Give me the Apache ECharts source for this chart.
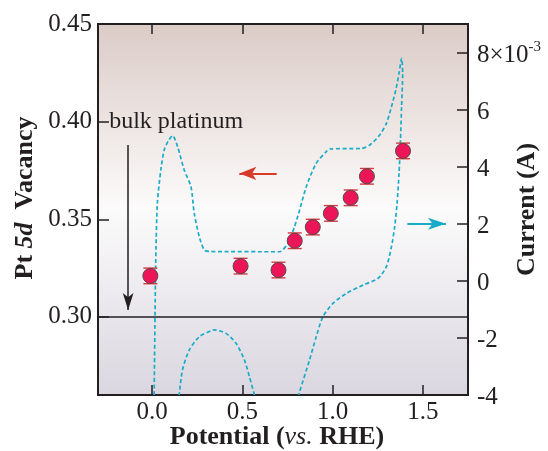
<!DOCTYPE html>
<html><head><meta charset="utf-8">
<script src="https://cdn.jsdelivr.net/npm/echarts@6/dist/echarts.min.js"></script>
<style>html,body{margin:0;padding:0;background:#fff}#c{width:548px;height:451px}</style>
</head><body><div id="c"></div>
<script>
// ---- data ----
const potential  = [-0.01, 0.49, 0.70, 0.79, 0.89, 0.99, 1.10, 1.19, 1.39];
const vacancy    = [0.321, 0.326, 0.324, 0.339, 0.346, 0.353, 0.361, 0.372, 0.385];
const vacancyErr = [0.004, 0.004, 0.004, 0.004, 0.004, 0.004, 0.004, 0.004, 0.004];

// cyclic voltammogram (A), main loop: anodic sweep then cathodic sweep
const cvMainPotential = [0.011, 0.017, 0.021, 0.029, 0.048, 0.067, 0.089, 0.113, 0.141, 0.178, 0.215, 0.233, 0.261, 0.289, 0.317, 0.706, 0.752, 0.789, 0.817, 0.854, 0.909, 0.965, 0.983, 1.159, 1.206, 1.261, 1.298, 1.326, 1.350, 1.368, 1.382,
                         1.388, 1.382, 1.376, 1.368, 1.357, 1.344, 1.326, 1.298, 1.252, 1.168, 1.076, 1.002, 0.946, 0.909, 0.872, 0.817, 0.811];
const cvMainCurrent   = [-4.0e-3, -0.67e-3, 1.08e-3, 2.73e-3, 3.88e-3, 4.59e-3, 4.90e-3, 5.09e-3, 4.70e-3, 3.88e-3, 3.30e-3, 2.38e-3, 1.55e-3, 1.08e-3, 1.03e-3, 1.02e-3, 1.32e-3, 1.90e-3, 2.48e-3, 3.30e-3, 4.12e-3, 4.53e-3, 4.62e-3, 4.64e-3, 4.76e-3, 5.11e-3, 5.52e-3, 6.10e-3, 6.69e-3, 7.27e-3, 7.80e-3,
                         7.28e-3, 6.10e-3, 4.94e-3, 3.77e-3, 2.72e-3, 1.90e-3, 1.20e-3, 0.50e-3, 0.09e-3, -0.15e-3, -0.44e-3, -0.79e-3, -1.26e-3, -1.96e-3, -2.77e-3, -3.88e-3, -4.0e-3];
// cathodic hydrogen region visible above the axis floor
const cvHumpPotential = [0.567, 0.539, 0.511, 0.465, 0.409, 0.344, 0.326, 0.261, 0.206, 0.168, 0.150];
const cvHumpCurrent   = [-4.0e-3, -3.36e-3, -2.77e-3, -2.19e-3, -1.84e-3, -1.72e-3, -1.75e-3, -1.96e-3, -2.42e-3, -3.12e-3, -4.0e-3];

const xTicks     = [0.0, 0.5, 1.0, 1.5];
const leftTicks  = [0.30, 0.35, 0.40, 0.45];
const rightTicks = [-0.004, -0.002, 0, 0.002, 0.004, 0.006, 0.008];
const bulkPlatinum = 0.30;

// ---- chart ----
const serif = '"Liberation Serif","DejaVu Serif",serif';
const ink = '#231f20';
const chart = echarts.init(document.getElementById('c'), null, {renderer: 'canvas'});

const zip = (a, b) => a.map((v, i) => [v, b[i]]);

const option = {
  animation: false,
  textStyle: {fontFamily: serif},
  grid: {
    left: 98, right: 80, top: 24, bottom: 56, show: true, borderWidth: 2, borderColor: ink,
    outerBoundsMode: 'none',
    backgroundColor: {type: 'linear', x: 0, y: 0, x2: 0, y2: 1, colorStops: [
      {offset: 0, color: '#dbcbc6'}, {offset: 0.5, color: '#fcfbfb'}, {offset: 1, color: '#d9d6df'}]}
  },
  xAxis: [{
    type: 'value', min: -0.3, max: 1.75, position: 'bottom',
    axisLine: {onZero: false, lineStyle: {color: ink, width: 2}},
    axisTick: {inside: true, length: 10, lineStyle: {color: ink, width: 1.5}, customValues: xTicks},
    axisLabel: {customValues: xTicks, formatter: v => v.toFixed(1), fontFamily: serif, fontSize: 25, color: ink, margin: 5},
    splitLine: {show: false},
    name: '{b|Potential (}{i|vs.}{b| RHE)}', nameLocation: 'middle', nameGap: 29, nameMoveOverlap: false,
    nameTextStyle: {padding: [0, 12, 0, 0], rich: {
      b: {fontFamily: serif, fontSize: 26, fontWeight: 'bold', color: ink},
      i: {fontFamily: serif, fontSize: 26, fontStyle: 'italic', color: ink}}}
  }, {
    type: 'value', min: -0.3, max: 1.75, position: 'top',
    axisLine: {onZero: false, lineStyle: {color: ink, width: 2}},
    axisTick: {inside: true, length: 10, lineStyle: {color: ink, width: 1.5}, customValues: xTicks},
    axisLabel: {show: false}, splitLine: {show: false}
  }],
  yAxis: [{
    type: 'value', min: 0.26, max: 0.45, position: 'left',
    axisLine: {onZero: false, lineStyle: {color: ink, width: 2}},
    axisTick: {inside: true, length: 11, lineStyle: {color: ink, width: 1.5}, customValues: leftTicks},
    axisLabel: {customValues: leftTicks, formatter: v => v.toFixed(2), fontFamily: serif, fontSize: 25, color: ink, margin: 6},
    splitLine: {show: false},
    name: '{b|Pt }{bi|5d}{b|  Vacancy}', nameLocation: 'middle', nameGap: 60, nameMoveOverlap: false,
    nameTextStyle: {padding: [0, 0, 0, 23], rich: {
      b: {fontFamily: serif, fontSize: 26, fontWeight: 'bold', color: ink},
      bi: {fontFamily: serif, fontSize: 26, fontWeight: 'bold', fontStyle: 'italic', color: ink}}}
  }, {
    type: 'value', min: -0.004, max: 0.009, position: 'right',
    axisLine: {onZero: false, lineStyle: {color: ink, width: 2}},
    axisTick: {inside: true, length: 11, lineStyle: {color: ink, width: 1.5}, customValues: rightTicks},
    axisLabel: {customValues: rightTicks, margin: 9,
      formatter: v => { const k = Math.round(v * 1000); return k === 8 ? '{m|8×10}{s|-3}' : '{m|' + k + '}'; },
      rich: {m: {fontFamily: serif, fontSize: 25, color: ink, lineHeight: 30, verticalAlign: 'bottom'},
             s: {fontFamily: serif, fontSize: 15, color: ink, lineHeight: 18, verticalAlign: 'top', padding: [2, 0, 0, 0]}}},
    splitLine: {show: false},
    name: 'Current (A)', nameLocation: 'middle', nameGap: 46, nameMoveOverlap: false, nameRotate: 90,
    nameTextStyle: {fontFamily: serif, fontSize: 26, fontWeight: 'bold', color: ink}
  }],
  series: [{
    type: 'line', xAxisIndex: 0, yAxisIndex: 1,
    data: zip(cvMainPotential, cvMainCurrent),
    showSymbol: false, symbol: 'none', smooth: 0.25, clip: true, silent: true,
    lineStyle: {color: '#19abc8', width: 1.7, type: [4, 2.6]},
    markLine: {
      silent: true, symbol: ['none', 'none'], label: {show: false}, animation: false,
      data: [[
        {coord: [1.414, 0.002], symbol: 'none', lineStyle: {color: '#19abc8', width: 2, type: 'solid'}},
        {coord: [1.628, 0.002], symbol: 'arrow', symbolSize: [9, 18], lineStyle: {color: '#19abc8', width: 2, type: 'solid'}}
      ]]
    },
    z: 2
  }, {
    type: 'line', xAxisIndex: 0, yAxisIndex: 1,
    data: zip(cvHumpPotential, cvHumpCurrent),
    showSymbol: false, symbol: 'none', smooth: 0.25, clip: true, silent: true,
    lineStyle: {color: '#19abc8', width: 1.7, type: [4, 2.6]},
    z: 2
  }, {
    type: 'custom', xAxisIndex: 0, yAxisIndex: 0, silent: true,
    data: potential.map((x, i) => [x, vacancy[i] - vacancyErr[i], vacancy[i] + vacancyErr[i]]),
    encode: {x: 0, y: [1, 2]},
    renderItem: (params, api) => {
      const lo = api.coord([api.value(0), api.value(1)]);
      const hi = api.coord([api.value(0), api.value(2)]);
      const w = 7, st = {stroke: '#d8383f', lineWidth: 1.4};
      return {type: 'group', children: [
        {type: 'line', shape: {x1: lo[0], y1: lo[1], x2: hi[0], y2: hi[1]}, style: st},
        {type: 'line', shape: {x1: lo[0] - w, y1: lo[1], x2: lo[0] + w, y2: lo[1]}, style: st},
        {type: 'line', shape: {x1: hi[0] - w, y1: hi[1], x2: hi[0] + w, y2: hi[1]}, style: st}
      ]};
    },
    z: 3
  }, {
    type: 'scatter', xAxisIndex: 0, yAxisIndex: 0, silent: true,
    data: zip(potential, vacancy),
    symbolSize: 15,
    itemStyle: {color: '#ec1558', borderColor: '#574848', borderWidth: 1, opacity: 1},
    markLine: {
      silent: true, symbol: ['none', 'none'], label: {show: false}, animation: false,
      data: [
        {yAxis: bulkPlatinum, lineStyle: {color: ink, width: 1.5, type: 'solid'}},
        [
          {coord: [-0.133, 0.388], symbol: 'none', lineStyle: {color: ink, width: 1.5, type: 'solid'}},
          {coord: [-0.133, 0.3035], symbol: 'arrow', symbolSize: [8, 17], lineStyle: {color: ink, width: 1.5, type: 'solid'}}
        ],
        [
          {coord: [0.690, 0.3735], symbol: 'none', lineStyle: {color: '#d83a2a', width: 2, type: 'solid'}},
          {coord: [0.483, 0.3735], symbol: 'arrow', symbolSize: [10, 17], lineStyle: {color: '#d83a2a', width: 2, type: 'solid'}}
        ]
      ]
    },
    markPoint: {
      silent: true, symbol: 'circle', symbolSize: 0,
      data: [{coord: [-0.238, 0.40], value: 'bulk platinum'}],
      label: {show: true, position: 'right', distance: 0, formatter: 'bulk platinum',
        fontFamily: serif, fontSize: 24, color: ink}
    },
    z: 4
  }]
};
chart.setOption(option);
</script>
</body></html>
